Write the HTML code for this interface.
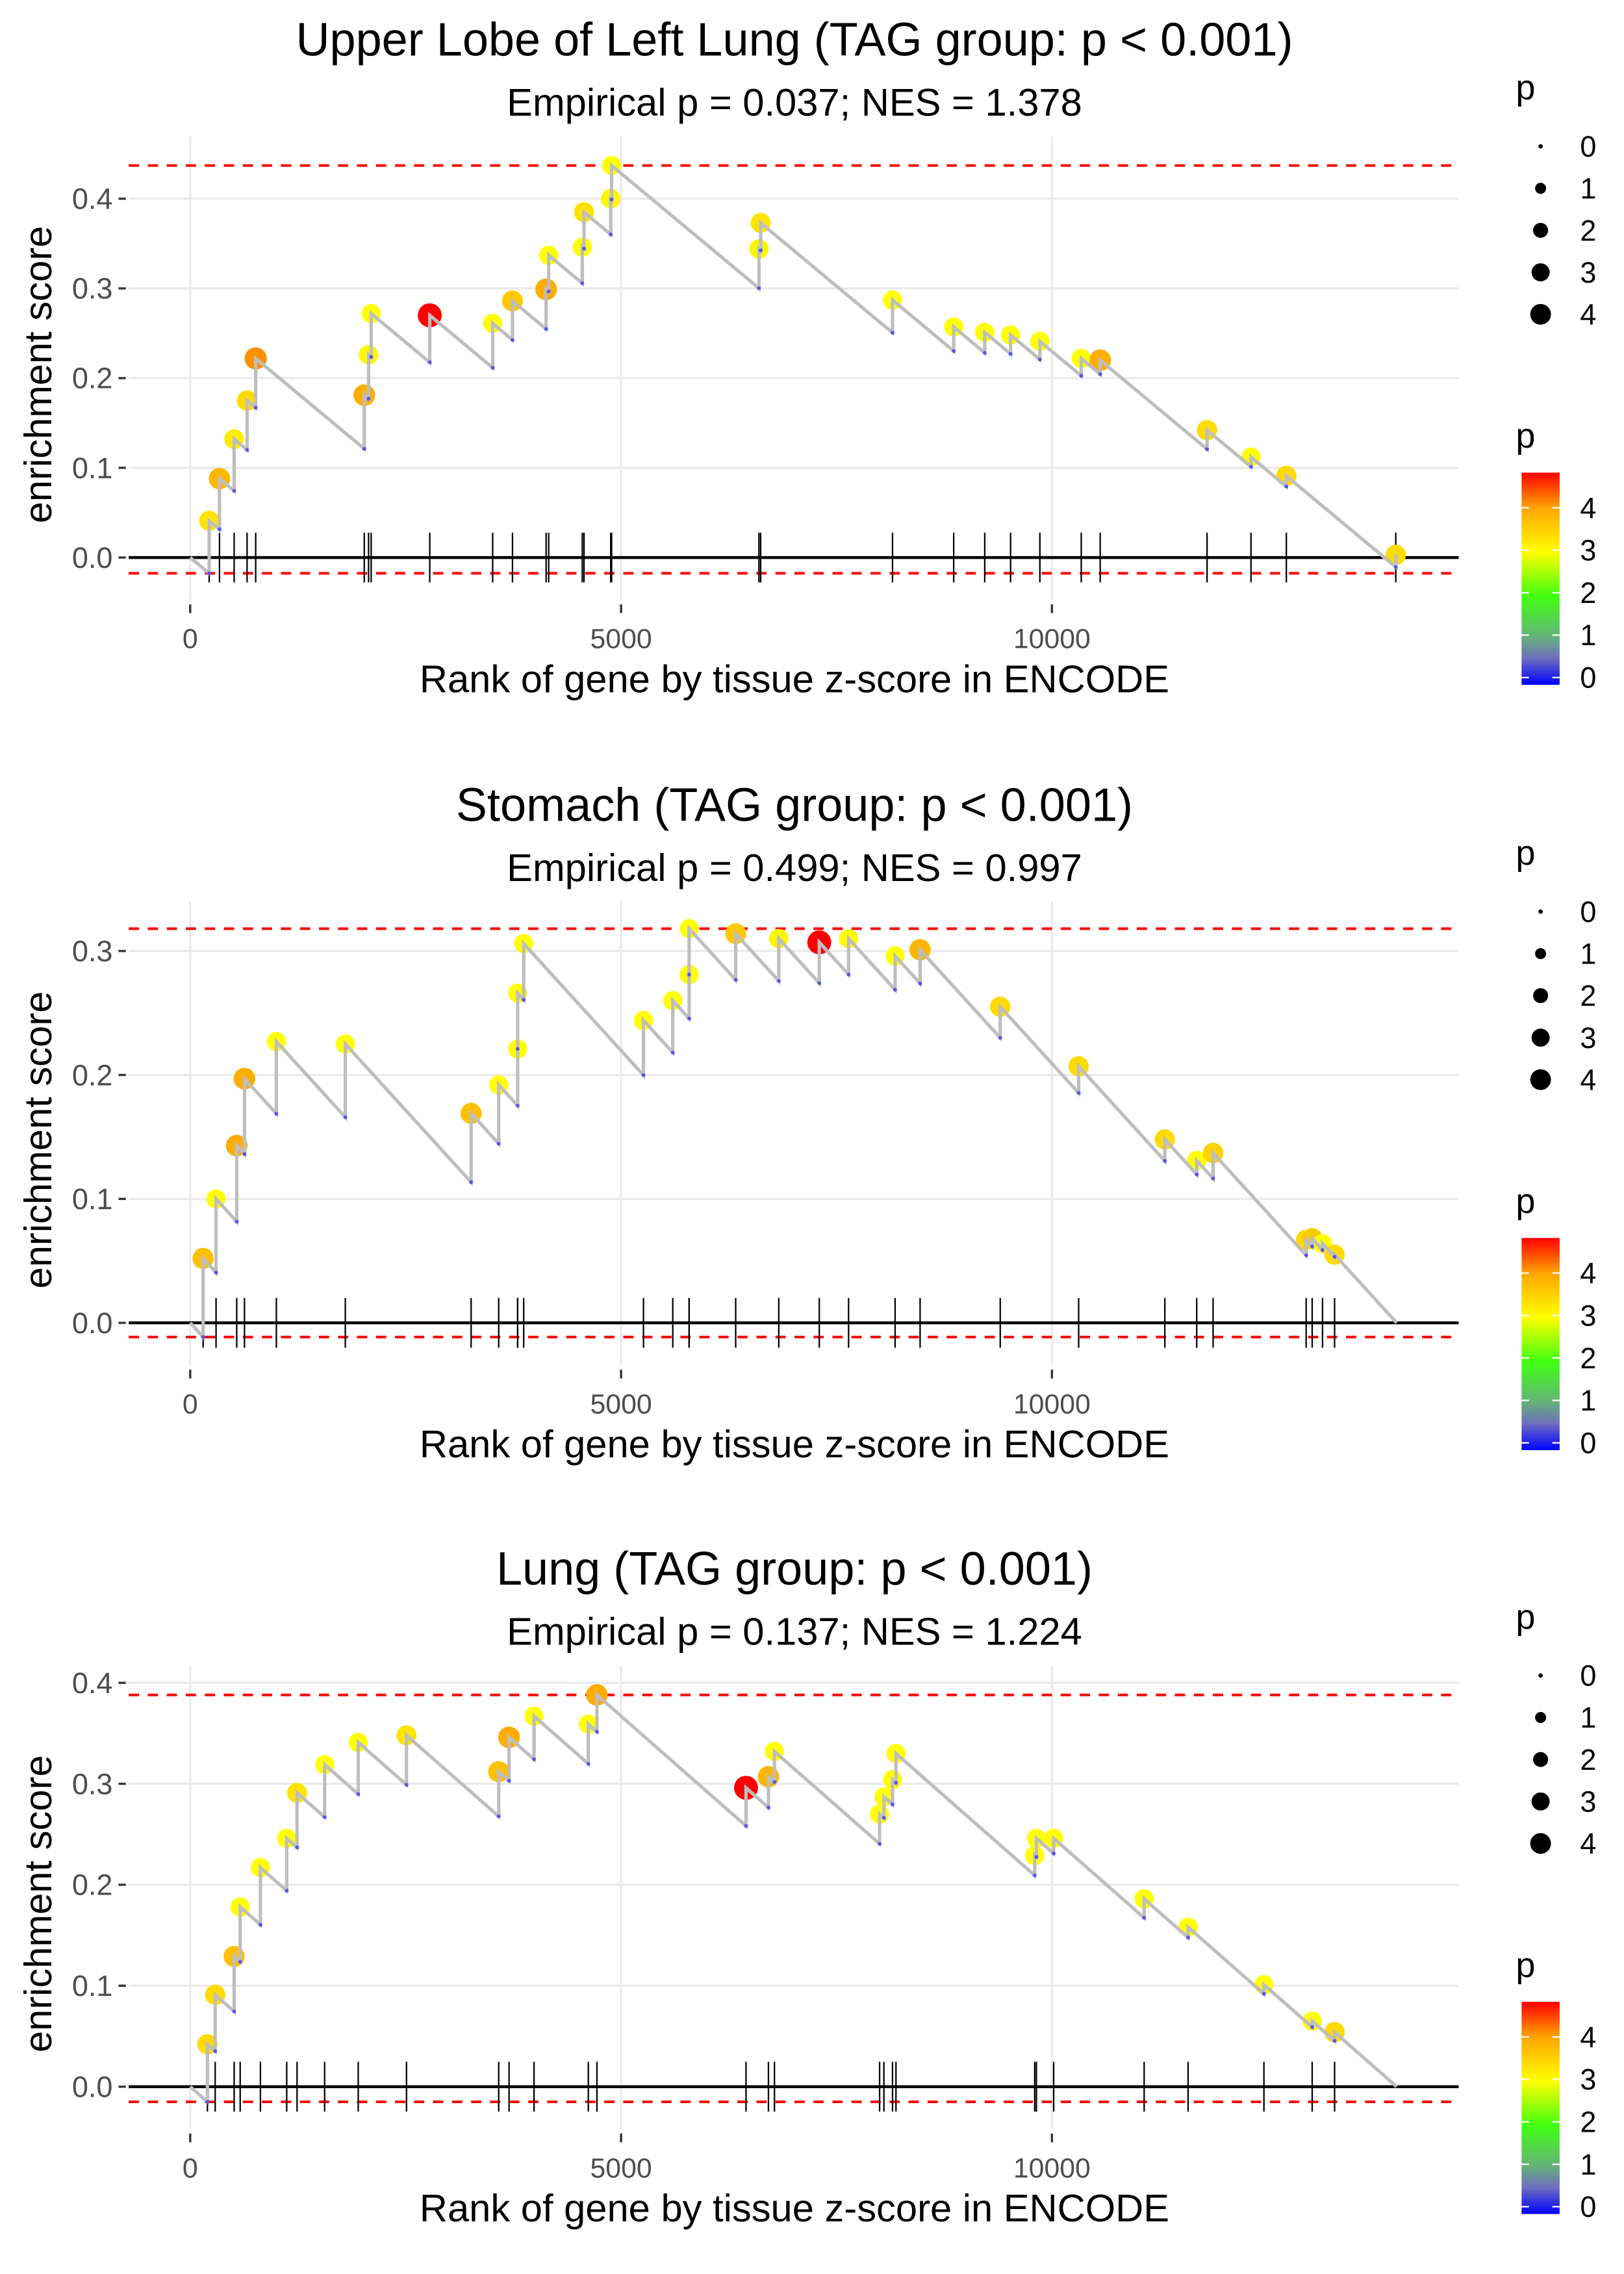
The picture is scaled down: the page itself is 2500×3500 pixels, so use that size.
<!DOCTYPE html>
<html><head><meta charset="utf-8"><style>
html,body{margin:0;padding:0;background:#fff;}
svg{display:block;font-family:"Liberation Sans",Arial,sans-serif;}
</style></head><body>
<svg id="chart" width="2500" height="3500" viewBox="0 0 1110 1554" preserveAspectRatio="none" xmlns="http://www.w3.org/2000/svg"></svg>
<script>
// ---- data: panel 1 (Upper Lobe of Left Lung)
const p1Ranks=[220,340,510,660,760,2020,2070,2100,2780,3510,3740,4130,4160,4550,4570,4880,4890,6600,6620,8150,8860,9220,9520,9860,10340,10560,11800,12310,12720,13990];
const p1ES=[0.041,0.088,0.132,0.175,0.222,0.181,0.226,0.272,0.270,0.261,0.286,0.299,0.337,0.346,0.385,0.400,0.437,0.344,0.373,0.287,0.257,0.251,0.248,0.241,0.222,0.220,0.142,0.112,0.091,0.003];
const p1P=[3.3,3.8,3.2,3.4,4.1,3.9,3.1,3.0,4.8,3.0,3.6,3.9,3.0,3.0,3.3,3.1,3.0,3.1,3.3,3.0,3.0,3.0,3.0,3.0,3.0,3.9,3.4,3.0,3.4,3.4];
// ---- data: panel 2 (Stomach)
const p2Ranks=[150,300,540,630,1000,1800,3260,3580,3800,3800,3870,5260,5600,5790,5790,6330,6830,7300,7640,8180,8470,9400,10310,11310,11680,11870,12950,13020,13140,13280];
const p2ES=[0.052,0.100,0.143,0.197,0.227,0.225,0.169,0.192,0.221,0.266,0.306,0.244,0.260,0.281,0.318,0.314,0.310,0.307,0.310,0.296,0.301,0.255,0.207,0.148,0.131,0.137,0.067,0.068,0.064,0.055];
const p2P=[3.7,3.0,3.9,3.9,3.0,3.0,3.7,3.0,3.0,3.0,3.0,3.0,3.0,3.0,3.0,3.6,3.1,4.8,3.0,3.0,3.8,3.4,3.4,3.4,3.0,3.5,3.4,3.6,3.0,3.4];
// ---- data: panel 3 (Lung)
const p3Ranks=[200,290,510,580,815,1120,1240,1560,1950,2510,3580,3700,3990,4620,4720,6450,6710,6780,8000,8050,8150,8190,9800,9820,10020,11070,11580,12460,13020,13280];
const p3ES=[0.042,0.091,0.129,0.178,0.217,0.246,0.291,0.319,0.341,0.348,0.312,0.346,0.367,0.359,0.388,0.296,0.307,0.332,0.270,0.287,0.304,0.330,0.229,0.246,0.246,0.186,0.158,0.101,0.065,0.054];
const p3P=[3.4,3.4,3.7,3.0,3.0,3.0,3.3,3.0,3.0,3.3,3.7,3.9,3.0,3.0,3.9,4.8,3.8,3.0,3.0,3.0,3.0,3.0,3.0,3.0,3.0,3.0,3.0,3.0,3.0,3.4];
const panelTitles=["Upper Lobe of Left Lung (TAG group: p < 0.001)","Stomach (TAG group: p < 0.001)","Lung (TAG group: p < 0.001)"];
const panelSubtitles=["Empirical p = 0.037; NES = 1.378","Empirical p = 0.499; NES = 0.997","Empirical p = 0.137; NES = 1.224"];
const yTicks1=[0,0.1,0.2,0.3,0.4];
const yTicks2=[0,0.1,0.2,0.3];
const yTicks3=[0,0.1,0.2,0.3,0.4];
const xTicks=[0,5000,10000];
const legendValues=[0,1,2,3,4];
const N=14000;

const NS="http://www.w3.org/2000/svg";
const svg=document.getElementById('chart');
function mk(tag,attrs,parent){const e=document.createElementNS(NS,tag);for(const k in attrs)e.setAttribute(k,attrs[k]);(parent||svg).appendChild(e);return e;}
function xScale(r){return 130+r*0.0589;}
const stops=[[0,[0,0,255]],[0.6,[110,110,190]],[1.1,[100,180,120]],[2,[64,255,16]],[3,[255,255,0]],[4,[255,165,0]],[4.8,[255,0,0]]];
function pColor(p){p=Math.max(0,Math.min(4.8,p));for(let i=1;i<stops.length;i++){if(p<=stops[i][0]){const a=stops[i-1],b=stops[i];const t=(p-a[0])/(b[0]-a[0]);const c=a[1].map((v,j)=>Math.round(v+(b[1][j]-v)*t));return 'rgb('+c.join(',')+')';}}return 'rgb(255,0,0)';}
function pRadius(p){return Math.sqrt(2.25+13.5*p);}

const panels=[
 {ranks:p1Ranks,es:p1ES,p:p1P,ticks:yTicks1,off:0,y0:381,ppu:613},
 {ranks:p2Ranks,es:p2ES,p:p2P,ticks:yTicks2,off:523,y0:904,ppu:847},
 {ranks:p3Ranks,es:p3ES,p:p3P,ticks:yTicks3,off:1045,y0:1426,ppu:690}
];

panels.forEach((P,pi)=>{
 const g=mk('g',{});
 
 
 const yS=v=>P.y0-v*P.ppu;
 const top=93+P.off, bot=410+P.off;
 const n=P.ranks.length;
 const slope=P.es[n-1]/(N-P.ranks[n-1]);
 const s=Math.max(6.5e-5,Math.min(8e-5,slope));
 P.ticks.forEach(t=>{const l=mk('line',{x1:88,x2:997,y1:yS(t),y2:yS(t),stroke:'#ebebeb','stroke-width':1.5},g);});
 xTicks.forEach(t=>{const l=mk('line',{x1:xScale(t),x2:xScale(t),y1:top,y2:bot,stroke:'#ebebeb','stroke-width':1.5},g);});
 P.ticks.forEach(t=>{
  mk('line',{x1:81,x2:86,y1:yS(t),y2:yS(t),stroke:'#333','stroke-width':1.5},g);
  const tx=mk('text',{x:77,y:yS(t)+7,'text-anchor':'end','font-size':20,fill:'#4d4d4d'},g);tx.textContent=t.toFixed(1);
  
 });
 xTicks.forEach(t=>{
  mk('line',{x1:xScale(t),x2:xScale(t),y1:bot+3,y2:bot+9,stroke:'#333','stroke-width':1.5},g);
  const tx=mk('text',{x:xScale(t),y:P.off+443,'text-anchor':'middle','font-size':19,fill:'#4d4d4d'},g);tx.textContent=t;
  
 });
 const maxES=Math.max(...P.es), minES=-s*P.ranks[0];
 [maxES,minES].forEach(v=>{const l=mk('line',{x1:88,x2:997,y1:yS(v),y2:yS(v),stroke:'#ff0000','stroke-width':1.8,'stroke-dasharray':'7,6'},g);});
 const z=mk('line',{x1:88,x2:997,y1:yS(0),y2:yS(0),stroke:'#000','stroke-width':2},g);
 P.ranks.forEach(r=>{const l=mk('line',{x1:xScale(r),x2:xScale(r),y1:yS(0)-17,y2:yS(0)+17,stroke:'#000','stroke-width':1},g);});
 P.ranks.forEach((r,i)=>{const c=mk('circle',{cx:xScale(r),cy:yS(P.es[i]),r:pRadius(P.p[i]),fill:pColor(P.p[i])},g);});
 let d='M'+xScale(0)+','+yS(0);let prev=0,prevR=0;const bottoms=[];
 P.ranks.forEach((r,i)=>{const b=prev-s*(r-prevR);bottoms.push([r,b]);d+=' L'+xScale(r)+','+yS(b)+' L'+xScale(r)+','+yS(P.es[i]);prev=P.es[i];prevR=r;});
 d+=' L'+xScale(N)+','+yS(0);
 const path=mk('path',{d:d,fill:'none',stroke:'#bebebe','stroke-width':2.3},g);
 bottoms.forEach(b=>{const c=mk('circle',{cx:xScale(b[0]),cy:yS(b[1]),r:1.3,fill:'#5555ee'},g);});
 const t1=mk('text',{x:543,y:P.off+38,'text-anchor':'middle','font-size':32,fill:'#000'},g);t1.textContent=panelTitles[pi];
 const t2=mk('text',{x:543,y:P.off+79,'text-anchor':'middle','font-size':26.5,fill:'#000'},g);t2.textContent=panelSubtitles[pi];
 const xt=mk('text',{x:543,y:P.off+473,'text-anchor':'middle','font-size':26.5,fill:'#000'},g);xt.textContent='Rank of gene by tissue z-score in ENCODE';
 const yt=mk('text',{x:0,y:0,'text-anchor':'middle','font-size':26.5,fill:'#000',transform:'translate(35,'+(P.off+256)+') rotate(-90)'},g);yt.textContent='enrichment score';
 const lg=mk('g',{},g);
 const lp=mk('text',{x:1036,y:P.off+68,'font-size':24,fill:'#000'},lg);lp.textContent='p';
 legendValues.forEach((v,i)=>{const yy=P.off+100+i*28.7;const c=mk('circle',{cx:1053,cy:yy,r:Math.sqrt(2.25+12*v),fill:'#000'},lg);
  const t=mk('text',{x:1080,y:yy+7,'font-size':20,fill:'#000'},lg);t.textContent=v;});
 const cg=mk('g',{},g);
 const cp=mk('text',{x:1036,y:P.off+306,'font-size':24,fill:'#000'},cg);cp.textContent='p';
 const gid='grad'+pi;const defs=mk('defs',{},cg);const lgd=mk('linearGradient',{id:gid,x1:0,y1:1,x2:0,y2:0},defs);
 stops.forEach(st=>mk('stop',{offset:(st[0]/4.8),'stop-color':pColor(st[0])},lgd));
 const barTop=P.off+323,barBot=P.off+468;
 const bar=mk('rect',{x:1040,y:barTop,width:26,height:barBot-barTop,fill:'url(#'+gid+')'},cg);
 legendValues.forEach(v=>{const y2=P.off+463-v*29;
  mk('line',{x1:1040,x2:1045,y1:y2,y2:y2,stroke:'#fff','stroke-width':1},cg);mk('line',{x1:1061,x2:1066,y1:y2,y2:y2,stroke:'#fff','stroke-width':1},cg);
  const t=mk('text',{x:1080,y:y2+7,'font-size':20,fill:'#000'},cg);t.textContent=v;});
});
</script>
</body></html>
